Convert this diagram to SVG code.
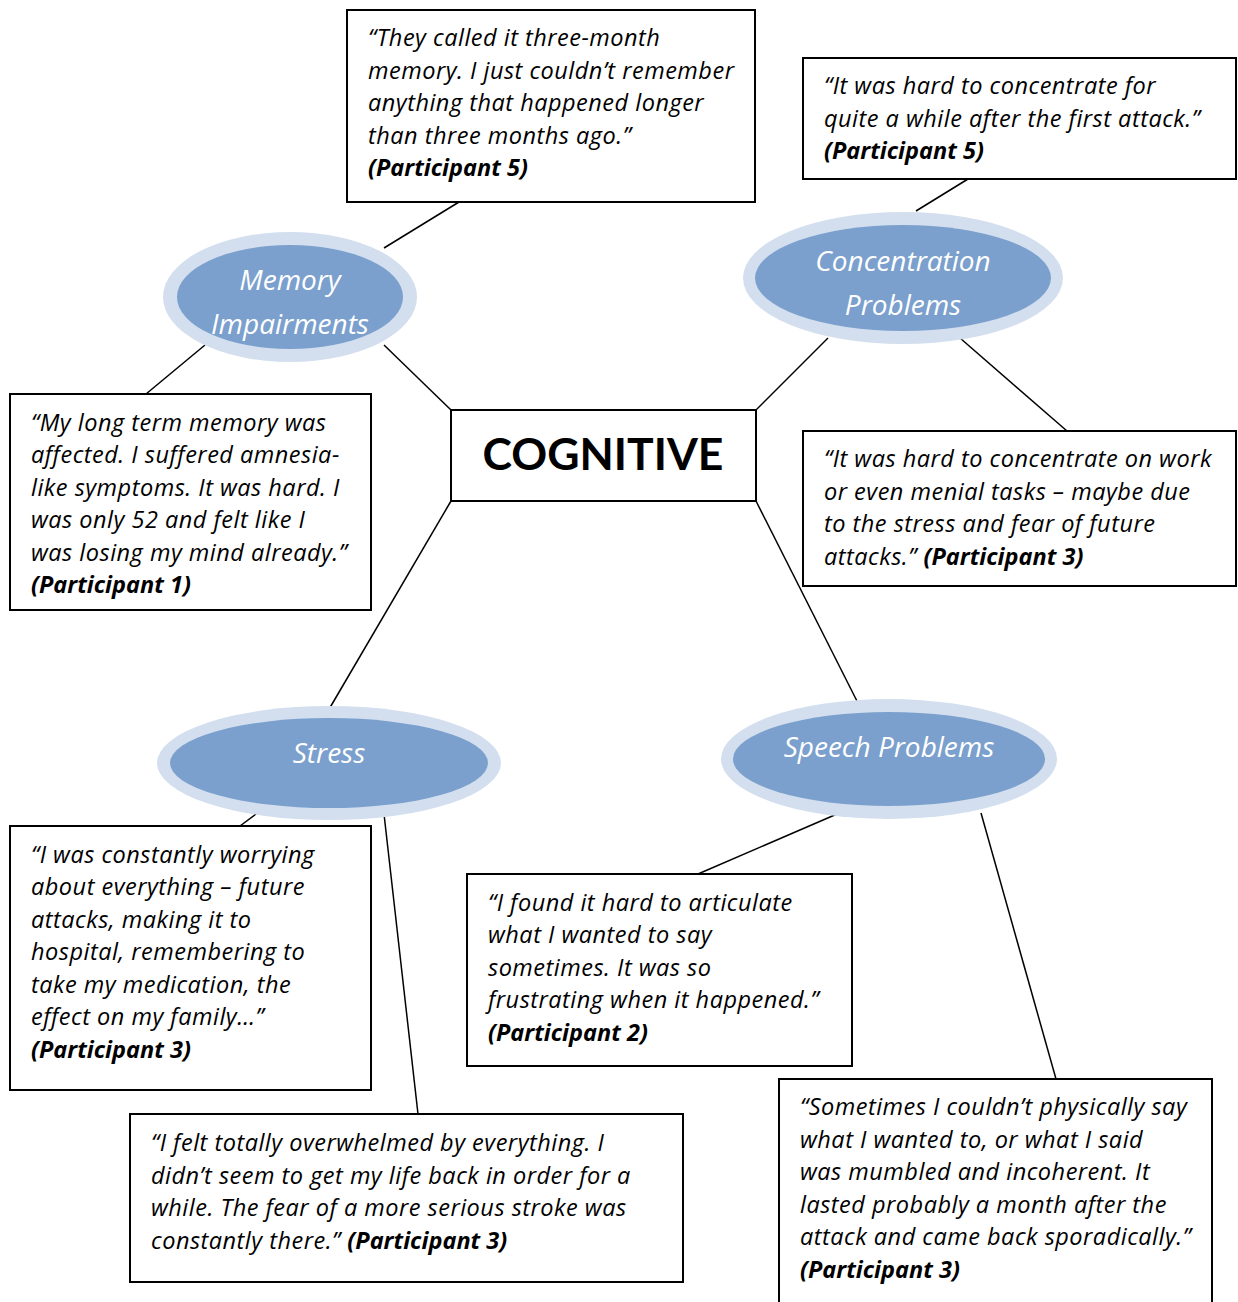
<svg xmlns="http://www.w3.org/2000/svg" width="1238" height="1302" viewBox="0 0 1238 1302">
<defs>
<style>
.box{fill:#fff;stroke:#000;stroke-width:2}
.q{font-family:"Open Sans",Lato,"Liberation Sans",sans-serif;font-style:italic;font-size:23.5px;letter-spacing:0.5px;fill:#000}
.p{font-weight:bold;letter-spacing:0}
.outer{fill:#D3DFEE}
.inner{fill:#7BA0CD}
.et{font-family:"Open Sans",Lato,"Liberation Sans",sans-serif;font-style:italic;font-size:28px;fill:#fff;text-anchor:middle}
.conn line{stroke:#000;stroke-width:1.5}
</style>
<clipPath id="cm"><ellipse cx="290" cy="297" rx="113" ry="52"/></clipPath>
</defs>
<rect width="1238" height="1302" fill="#fff"/>
<g class="conn" id="connectors">
<line x1="459" y1="202" x2="384" y2="248"/>
<line x1="205" y1="345" x2="146" y2="394"/>
<line x1="384" y1="345" x2="451" y2="410"/>
<line x1="968" y1="179" x2="916" y2="211"/>
<line x1="828" y1="338" x2="756" y2="410"/>
<line x1="960" y1="338" x2="1067" y2="431"/>
<line x1="451" y1="501" x2="328" y2="711"/>
<line x1="756" y1="501" x2="862" y2="711"/>
<line x1="256" y1="814" x2="240" y2="826"/>
<line x1="384" y1="814" x2="418" y2="1114"/>
<line x1="837" y1="814" x2="698" y2="874"/>
<line x1="981" y1="813" x2="1056" y2="1079"/>
</g>
<g id="cognitive">
<rect class="box" x="451" y="410" width="305" height="91"/>
<text x="603" y="470" font-family="Lato,'Open Sans','Liberation Sans',sans-serif" font-weight="bold" font-size="44.5" text-anchor="middle">COGNITIVE</text>
</g>
<g id="memory">
<ellipse class="outer" cx="290" cy="297" rx="127" ry="65"/>
<ellipse class="inner" cx="290" cy="297" rx="113" ry="52"/>
<g clip-path="url(#cm)">
<text class="et" x="290" y="290">Memory</text>
<text class="et" x="290" y="334">Impairments</text>
</g>
</g>
<g id="concentration">
<ellipse class="outer" cx="903" cy="278" rx="160" ry="66"/>
<ellipse class="inner" cx="903" cy="278" rx="148" ry="53"/>
<text class="et" x="903" y="271">Concentration</text>
<text class="et" x="903" y="315">Problems</text>
</g>
<g id="stress">
<ellipse class="outer" cx="329" cy="763" rx="172" ry="57"/>
<ellipse class="inner" cx="329" cy="763" rx="159" ry="45"/>
<text class="et" x="329" y="763">Stress</text>
</g>
<g id="speech">
<ellipse class="outer" cx="889" cy="759" rx="168" ry="60"/>
<ellipse class="inner" cx="889" cy="759" rx="156" ry="47"/>
<text class="et" x="889" y="757">Speech Problems</text>
</g>
<g id="quote-memory-top">
<rect class="box" x="347" y="10" width="408" height="192"/>
<text class="q"><tspan x="368" y="46">“They called it three-month</tspan><tspan x="368" y="79">memory. I just couldn’t remember</tspan><tspan x="368" y="111">anything that happened longer</tspan><tspan x="368" y="144">than three months ago.”</tspan><tspan x="368" y="176" class="p">(Participant 5)</tspan></text>
</g>
<g id="quote-concentration-top">
<rect class="box" x="803" y="58" width="433" height="121"/>
<text class="q"><tspan x="824" y="94">“It was hard to concentrate for</tspan><tspan x="824" y="127">quite a while after the first attack.”</tspan><tspan x="824" y="159" class="p">(Participant 5)</tspan></text>
</g>
<g id="quote-memory-left">
<rect class="box" x="10" y="394" width="361" height="216"/>
<text class="q"><tspan x="31" y="431">“My long term memory was</tspan><tspan x="31" y="463">affected. I suffered amnesia-</tspan><tspan x="31" y="496">like symptoms. It was hard. I</tspan><tspan x="31" y="528">was only 52 and felt like I</tspan><tspan x="31" y="561">was losing my mind already.”</tspan><tspan x="31" y="593" class="p">(Participant 1)</tspan></text>
</g>
<g id="quote-concentration-bottom">
<rect class="box" x="803" y="431" width="433" height="155"/>
<text class="q"><tspan x="824" y="467">“It was hard to concentrate on work</tspan><tspan x="824" y="500">or even menial tasks – maybe due</tspan><tspan x="824" y="532">to the stress and fear of future</tspan><tspan x="824" y="565">attacks.” <tspan class="p">(Participant 3)</tspan></tspan></text>
</g>
<g id="quote-stress-left">
<rect class="box" x="10" y="826" width="361" height="264"/>
<text class="q"><tspan x="31" y="863">“I was constantly worrying</tspan><tspan x="31" y="895">about everything – future</tspan><tspan x="31" y="928">attacks, making it to</tspan><tspan x="31" y="960">hospital, remembering to</tspan><tspan x="31" y="993">take my medication, the</tspan><tspan x="31" y="1025">effect on my family…”</tspan><tspan x="31" y="1058" class="p">(Participant 3)</tspan></text>
</g>
<g id="quote-stress-bottom">
<rect class="box" x="130" y="1114" width="553" height="168"/>
<text class="q"><tspan x="151" y="1151">“I felt totally overwhelmed by everything. I</tspan><tspan x="151" y="1184">didn’t seem to get my life back in order for a</tspan><tspan x="151" y="1216">while. The fear of a more serious stroke was</tspan><tspan x="151" y="1249">constantly there.” <tspan class="p">(Participant 3)</tspan></tspan></text>
</g>
<g id="quote-speech-left">
<rect class="box" x="467" y="874" width="385" height="192"/>
<text class="q"><tspan x="488" y="911">“I found it hard to articulate</tspan><tspan x="488" y="943">what I wanted to say</tspan><tspan x="488" y="976">sometimes. It was so</tspan><tspan x="488" y="1008">frustrating when it happened.”</tspan><tspan x="488" y="1041" class="p">(Participant 2)</tspan></text>
</g>
<g id="quote-speech-right">
<rect class="box" x="779" y="1079" width="433" height="240"/>
<text class="q"><tspan x="800" y="1115">“Sometimes I couldn’t physically say</tspan><tspan x="800" y="1148">what I wanted to, or what I said</tspan><tspan x="800" y="1180">was mumbled and incoherent. It</tspan><tspan x="800" y="1213">lasted probably a month after the</tspan><tspan x="800" y="1245">attack and came back sporadically.”</tspan><tspan x="800" y="1278" class="p">(Participant 3)</tspan></text>
</g>
</svg>
